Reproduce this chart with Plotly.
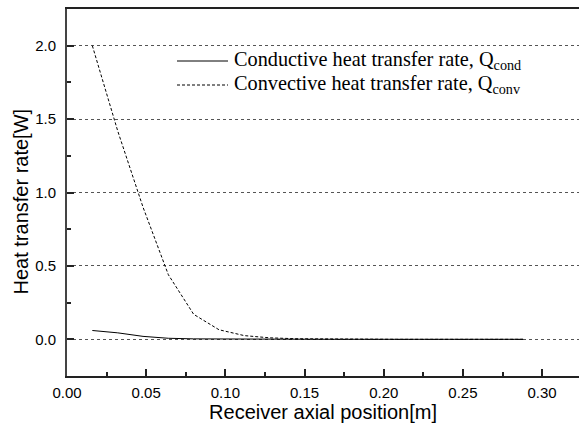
import plotly.graph_objects as go

# Data
x_pos = [0.016, 0.032, 0.048, 0.064, 0.080, 0.096, 0.112, 0.128, 0.144,
         0.160, 0.176, 0.192, 0.208, 0.224, 0.240, 0.256, 0.272, 0.288]
q_cond = [0.060, 0.044, 0.020, 0.007, 0.003, 0.0015, 0.0008, 0.0004, 0.0002,
          0.0001, 0.0, 0.0, 0.0, 0.0, 0.0, 0.0, 0.0, 0.0]
q_conv = [2.00, 1.42, 0.90, 0.44, 0.17, 0.065, 0.025, 0.010, 0.004,
          0.002, 0.001, 0.0005, 0.0, 0.0, 0.0, 0.0, 0.0, 0.0]

legend_labels = ["Conductive heat transfer rate, Q<sub>cond</sub>",
                 "Convective heat transfer rate, Q<sub>conv</sub>"]
x_title = "Receiver axial position[m]"
y_title = "Heat transfer rate[W]"

fig = go.Figure()
fig.add_trace(go.Scatter(x=x_pos, y=q_cond, mode="lines", name=legend_labels[0],
                         line=dict(color="black", width=1), showlegend=False))
fig.add_trace(go.Scatter(x=x_pos, y=q_conv, mode="lines", name=legend_labels[1],
                         line=dict(color="black", width=1, dash="3px,2px"),
                         showlegend=False))

W, H = 579, 425
ml, mr, mt, mb = 67, 0, 9, 49
pw, ph = W - ml - mr, H - mt - mb

def px(xpix):
    return (xpix - ml) / pw

def py(ypix):
    return 1 - (ypix - mt) / ph

# legend drawn as shapes + text
legend_rows = [(61, "solid"), (85, "3px,2px")]
for (yy, dash), label in zip(legend_rows, legend_labels):
    fig.add_shape(type="line", xref="paper", yref="paper",
                  x0=px(177), x1=px(228), y0=py(yy), y1=py(yy),
                  line=dict(color="black", width=1, dash=dash))
    fig.add_annotation(xref="paper", yref="paper", x=px(232), y=py(yy),
                       xanchor="left", yanchor="middle", showarrow=False,
                       text=label,
                       font=dict(family="Liberation Serif, Times New Roman, serif",
                                 size=20.3, color="black"))

# y-axis title (placed as rotated text to match reference position)
fig.add_annotation(xref="paper", yref="paper", x=px(20.5), y=py(202),
                   xanchor="center", yanchor="middle", showarrow=False,
                   textangle=-90, text=y_title,
                   font=dict(family="Liberation Sans, Arial, sans-serif",
                             size=20, color="black"))

axis_font = dict(family="Liberation Sans, Arial, sans-serif", size=15, color="black")

fig.update_layout(
    width=W, height=H,
    margin=dict(l=ml, r=mr, t=mt, b=mb),
    paper_bgcolor="white", plot_bgcolor="white",
    font=axis_font,
    xaxis=dict(
        range=[0, 0.3233], tickvals=[0, 0.05, 0.10, 0.15, 0.20, 0.25, 0.30],
        ticktext=["0.00", "0.05", "0.10", "0.15", "0.20", "0.25", "0.30"],
        ticks="inside", ticklen=7, tickwidth=1.5, tickcolor="#222",
        minor=dict(dtick=0.025, tick0=0, ticks="inside", ticklen=4,
                   tickwidth=1.5, tickcolor="#222", showgrid=False),
        showline=True, linecolor="#222", linewidth=2, mirror=True,
        showgrid=False, zeroline=False,
        title=dict(text=x_title, font=dict(size=20), standoff=5),
        tickfont=axis_font, ticklabelstandoff=2,
    ),
    yaxis=dict(
        range=[-0.25, 2.25], tickvals=[0, 0.5, 1.0, 1.5, 2.0],
        ticktext=["0.0", "0.5", "1.0", "1.5", "2.0"],
        ticks="inside", ticklen=7, tickwidth=1.5, tickcolor="#222",
        minor=dict(dtick=0.25, tick0=0, ticks="inside", ticklen=4,
                   tickwidth=1.5, tickcolor="#222", showgrid=False),
        showline=True, linecolor="#444", linewidth=2, mirror=False,
        showgrid=True, gridcolor="#555", gridwidth=1, griddash="dot",
        zeroline=False,
        tickfont=axis_font, ticklabelstandoff=6,
    ),
)

fig.write_html("out.html")
